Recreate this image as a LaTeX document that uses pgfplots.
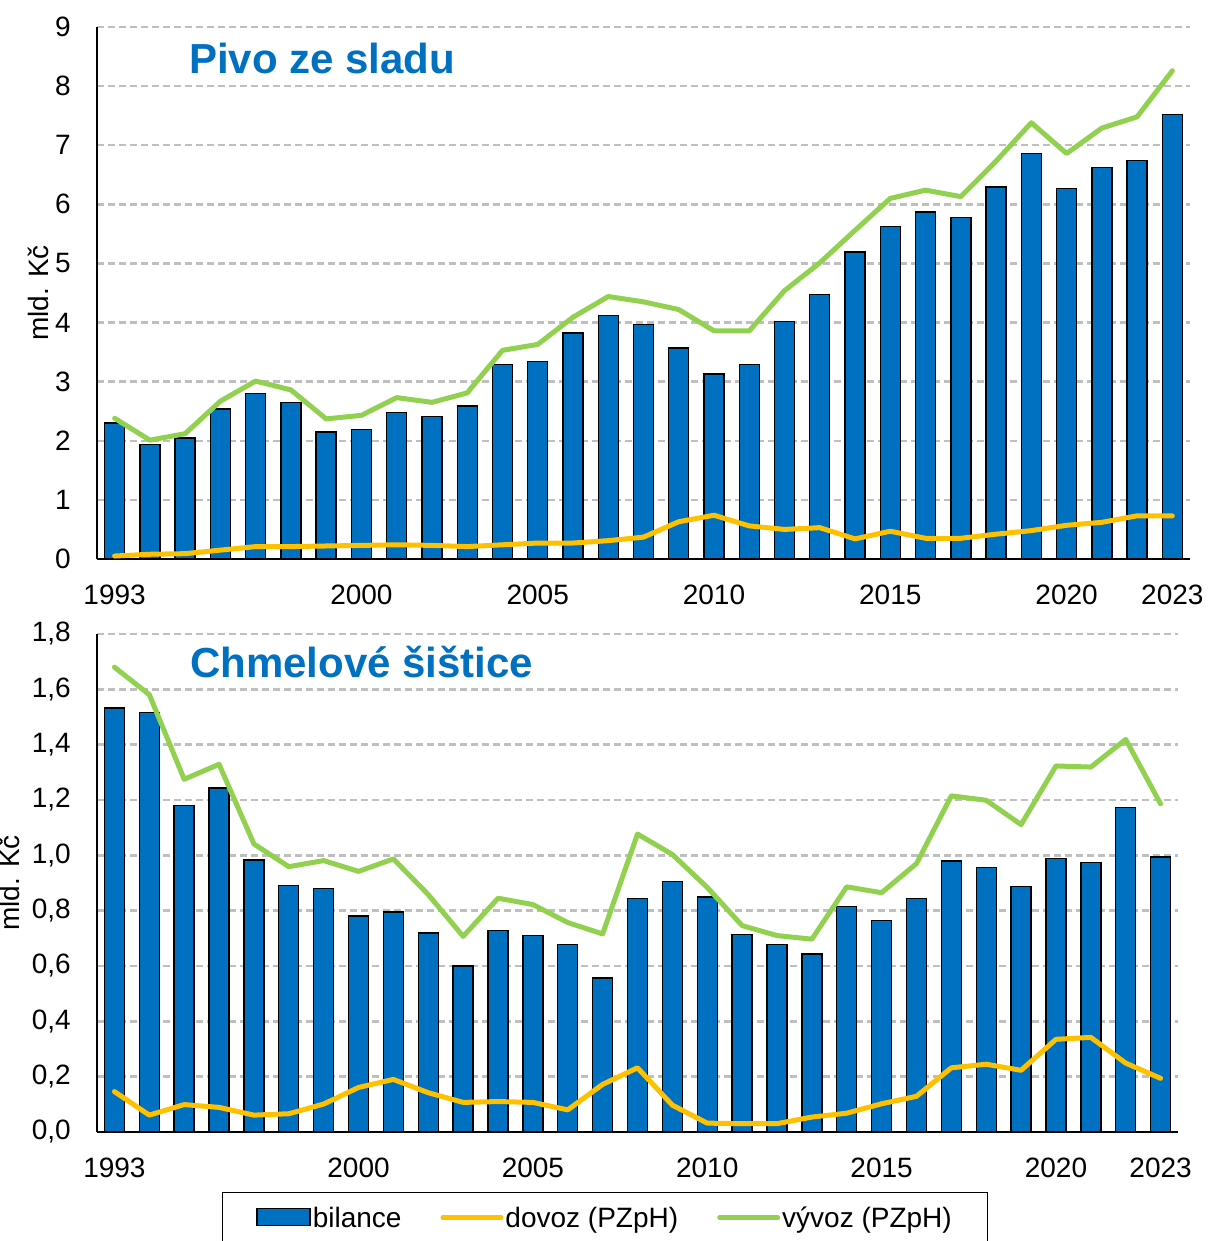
\documentclass[border=0pt]{standalone}
\usepackage{fontspec}
\setmainfont{Liberation Sans}
\usepackage{pgfplots}
\pgfplotsset{compat=1.18}
\definecolor{cblue}{HTML}{0070C0}
\definecolor{cyellow}{HTML}{FFC000}
\definecolor{cgreen}{HTML}{92D050}
\definecolor{cgrid}{HTML}{BFBFBF}

\pgfplotsset{
  common/.style={
    scale only axis,
    xmin=1992.5, xmax=2023.5,
    axis x line*=bottom, axis y line*=left,
    axis line style={black, line width=1.3pt, -},
    major tick length=0pt,
    xtick={1993,2000,2005,2010,2015,2020,2023},
    xticklabel style={/pgf/number format/1000 sep={}, inner sep=0pt, anchor=north, yshift=-26pt},
    yticklabel style={inner sep=0pt, anchor=east, xshift=-26pt},
    ymajorgrids,
    grid style={draw=cgrid, line width=2.5pt, dash pattern=on 7pt off 4pt},
    major grid style={draw=cgrid, line width=2.5pt, dash pattern=on 7pt off 4pt},
    tick label style={font=\fontsize{28}{28}\selectfont},
    /pgf/number format/assume math mode=true,
    label style={font=\fontsize{28}{28}\selectfont},
    clip=false,
  },
  barsty/.style={ybar, bar width=20pt, fill=cblue, draw=black, line width=1.4pt},
  yelsty/.style={cyellow, line width=5pt, line join=round, line cap=round},
  grnsty/.style={cgreen, line width=5pt, line join=round, line cap=round},
}

\pgfplotstableread{
year bil dov vyv
1993 2.30 0.05 2.38
1994 1.94 0.08 2.01
1995 2.05 0.09 2.12
1996 2.54 0.15 2.67
1997 2.80 0.21 3.01
1998 2.65 0.21 2.86
1999 2.15 0.22 2.37
2000 2.19 0.23 2.43
2001 2.48 0.24 2.73
2002 2.41 0.23 2.65
2003 2.59 0.21 2.81
2004 3.29 0.24 3.53
2005 3.34 0.27 3.63
2006 3.82 0.27 4.09
2007 4.12 0.31 4.44
2008 3.97 0.37 4.35
2009 3.57 0.63 4.22
2010 3.13 0.74 3.86
2011 3.29 0.56 3.86
2012 4.02 0.50 4.54
2013 4.47 0.53 5.01
2014 5.19 0.34 5.56
2015 5.62 0.47 6.10
2016 5.87 0.35 6.24
2017 5.78 0.35 6.13
2018 6.29 0.42 6.73
2019 6.86 0.48 7.38
2020 6.27 0.57 6.86
2021 6.62 0.62 7.29
2022 6.74 0.73 7.48
2023 7.52 0.73 8.26
}\pivo

\pgfplotstableread{
year bil dov vyv
1993 1.533 0.146 1.680
1994 1.516 0.061 1.581
1995 1.181 0.099 1.275
1996 1.244 0.089 1.329
1997 0.983 0.061 1.041
1998 0.892 0.066 0.959
1999 0.881 0.101 0.981
2000 0.781 0.161 0.942
2001 0.795 0.190 0.987
2002 0.719 0.142 0.858
2003 0.600 0.107 0.707
2004 0.729 0.110 0.845
2005 0.710 0.107 0.822
2006 0.677 0.080 0.757
2007 0.557 0.172 0.716
2008 0.845 0.232 1.077
2009 0.906 0.097 1.003
2010 0.849 0.032 0.884
2011 0.714 0.030 0.746
2012 0.677 0.030 0.710
2013 0.643 0.054 0.697
2014 0.815 0.068 0.886
2015 0.765 0.102 0.865
2016 0.845 0.129 0.970
2017 0.979 0.232 1.215
2018 0.955 0.245 1.199
2019 0.888 0.223 1.111
2020 0.988 0.335 1.323
2021 0.974 0.342 1.319
2022 1.172 0.249 1.419
2023 0.994 0.194 1.186
}\chmel

\begin{document}
\begin{tikzpicture}
\useasboundingbox (0,0) rectangle (1207pt,1241pt);
\begin{axis}[common,
  at={(97pt,682pt)}, anchor=south west,
  width=1093pt, height=532pt,
  ymin=0, ymax=9, ytick={0,1,...,9},
  ylabel={mld. Kč},
  ylabel style={at={(axis description cs:-0.044,0.5)}, anchor=south, inner sep=0pt},
]
\addplot[barsty] table[x=year,y=bil] {\pivo};
\addplot[yelsty] table[x=year,y=dov] {\pivo};
\addplot[grnsty] table[x=year,y=vyv] {\pivo};
\node[anchor=base west, inner sep=0pt, text=cblue, font=\bfseries\fontsize{42}{42}\selectfont] at (rel axis cs:0.084,0.913) {Pivo ze sladu};
\end{axis}
\begin{axis}[common,
  at={(97pt,109pt)}, anchor=south west,
  width=1081pt, height=498pt,
  ymin=0, ymax=1.8, ytick={0,0.2,...,1.8},
  yticklabel style={/pgf/number format/.cd, use comma, fixed, fixed zerofill, precision=1},
  ylabel={mld. Kč},
  ylabel style={at={(axis description cs:-0.071,0.5)}, anchor=south, inner sep=0pt},
  legend columns=3,
  legend style={at={(axis description cs:0.47,0)}, anchor=north, yshift=-60pt,
    draw=black, line width=1.2pt, inner xsep=34pt, inner ysep=12pt,
    font=\fontsize{28}{28}\selectfont,
    /tikz/every even column/.append style={column sep=37pt},
    nodes={inner sep=2pt}},
]
\addplot[barsty, legend image code/.code={\draw[fill=cblue, draw=black, line width=1.4pt] (0pt,-8pt) rectangle (53pt,9pt);}] table[x=year,y=bil] {\chmel};
\addlegendentry{bilance}
\addplot[yelsty, legend image code/.code={\draw[cyellow, line width=5pt] (0pt,0pt) -- (58pt,0pt);}] table[x=year,y=dov] {\chmel};
\addlegendentry{dovoz (PZpH)}
\addplot[grnsty, legend image code/.code={\draw[cgreen, line width=5pt] (0pt,0pt) -- (58pt,0pt);}] table[x=year,y=vyv] {\chmel};
\addlegendentry{vývoz (PZpH)}
\node[anchor=base west, inner sep=0pt, text=cblue, font=\bfseries\fontsize{42}{42}\selectfont] at (rel axis cs:0.086,0.912) {Chmelové šištice};
\end{axis}
\end{tikzpicture}
\end{document}
